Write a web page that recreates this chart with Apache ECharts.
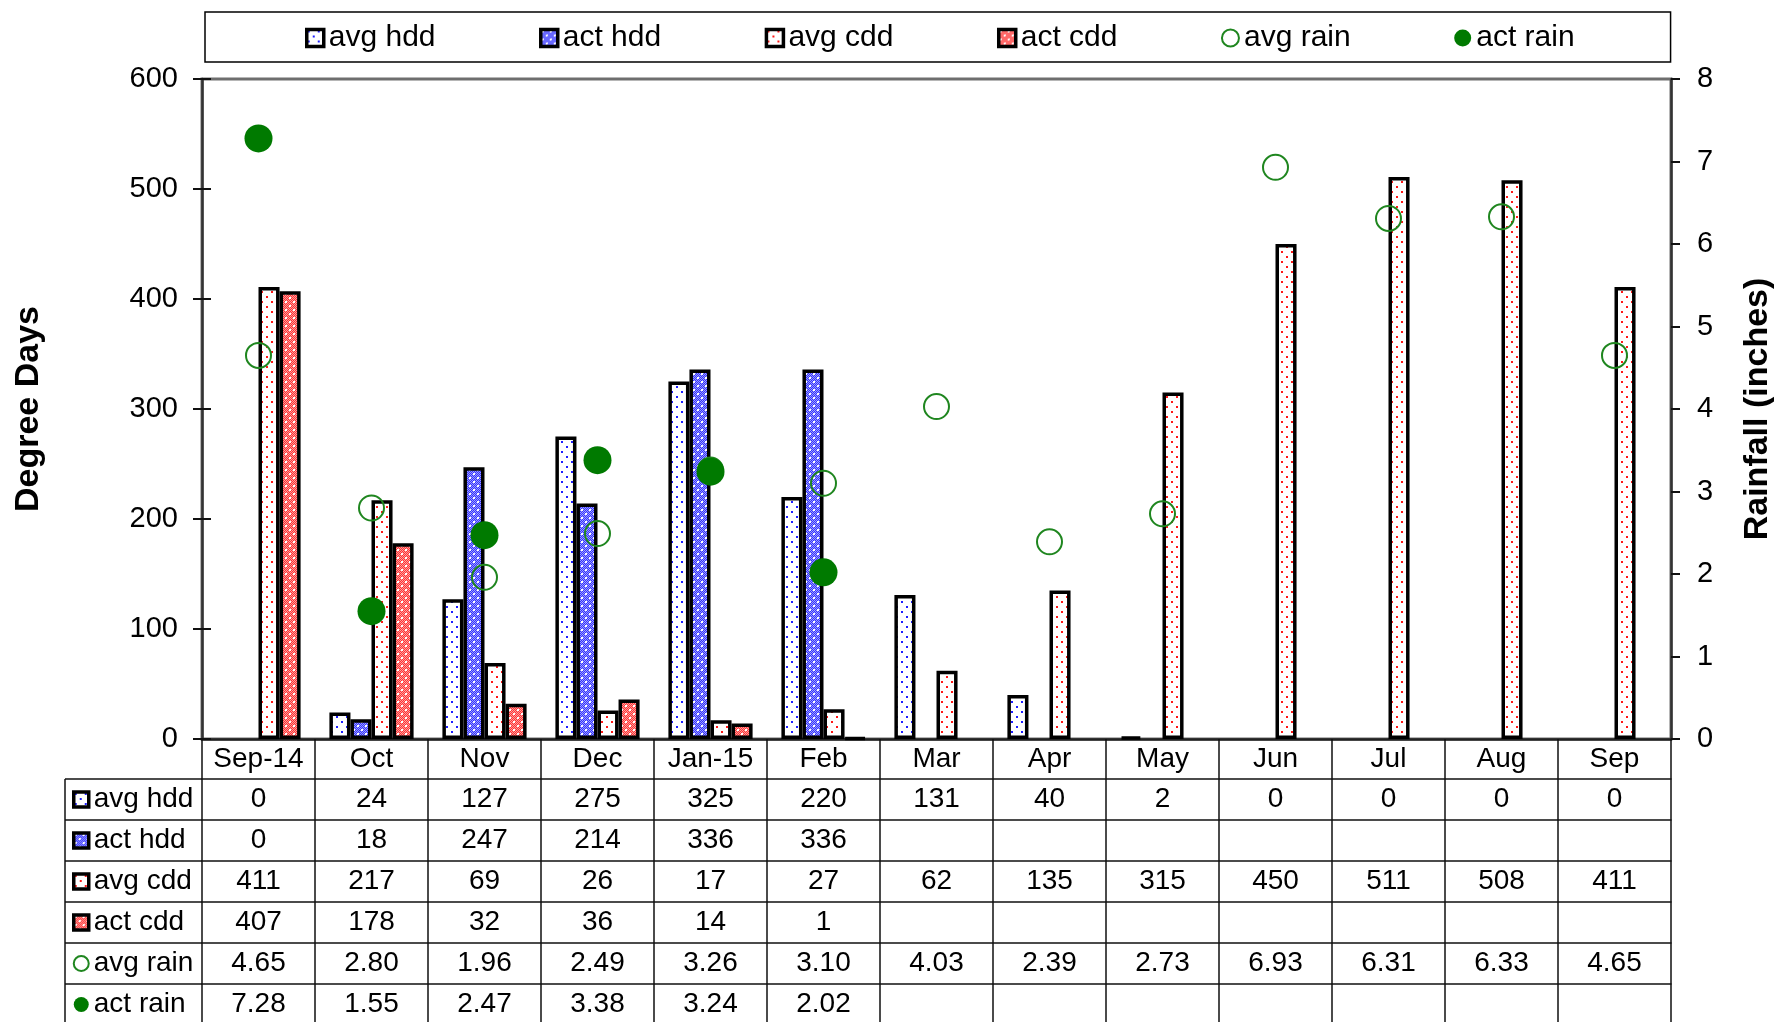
<!DOCTYPE html>
<html><head><meta charset="utf-8">
<script src="https://cdn.jsdelivr.net/npm/echarts@6/dist/echarts.min.js"></script>
<style>html,body{margin:0;padding:0;background:#fff;overflow:hidden}#c{width:1779px;height:1022px}</style>
</head><body><div id="c"></div>
<script>
// ---- data ----
const categories = ['Sep-14','Oct','Nov','Dec','Jan-15','Feb','Mar','Apr','May','Jun','Jul','Aug','Sep'];
const avgHdd  = [0,24,127,275,325,220,131,40,2,0,0,0,0];
const actHdd  = [0,18,247,214,336,336,null,null,null,null,null,null,null];
const avgCdd  = [411,217,69,26,17,27,62,135,315,450,511,508,411];
const actCdd  = [407,178,32,36,14,1,null,null,null,null,null,null,null];
const avgRain = [4.65,2.80,1.96,2.49,3.26,3.10,4.03,2.39,2.73,6.93,6.31,6.33,4.65];
const actRain = [7.28,1.55,2.47,3.38,3.24,2.02,null,null,null,null,null,null,null];
const seriesNames = ['avg hdd','act hdd','avg cdd','act cdd','avg rain','act rain'];
const leftAxis  = {min:0, max:600, interval:100};
const rightAxis = {min:0, max:8, interval:1};

// ---- layout / style ----
const W = 1779, H = 1022;
const gridLeft = 202, gridRight = W - 1671, gridTop = 79, gridBottom = H - 739;
const axisY = H - gridBottom;
const catRowH = 40, rowH = 41, labelLeft = 65;
const FONT = '"Liberation Sans", Arial, sans-serif';
const GREEN = '#007a00';

function makePattern(bg, dotColor, dense, sparse) {
  const c = document.createElement('canvas');
  const s = sparse ? 10 : 8;
  c.width = s; c.height = s;
  const g = c.getContext('2d');
  g.fillStyle = bg; g.fillRect(0,0,s,s);
  if (dense) {
    g.fillStyle = dense;
    for (let y=0;y<s;y++) for (let x=0;x<s;x++) if ((x+y)%2===0) g.fillRect(x,y,1,1);
  }
  g.fillStyle = dotColor;
  const h = s/2;
  g.fillRect(1,1,2,2); g.fillRect(1+h,1+h,2,2);
  return {image: c, repeat: 'repeat'};
}
const patAvgHdd = makePattern('#ffffff', '#1f1fff', null, true);
const patActHdd = makePattern('#3434ff', '#ffffff', '#9c9cff', false);
const patAvgCdd = makePattern('#ffffff', '#ff1818', null, true);
const patActCdd = makePattern('#ff3434', '#ffffff', '#ff9c9c', false);

function barSeries(name, data, pat) {
  return {name, type:'bar',
    data: data.map(v => v === 0 ? {value:v, itemStyle:{borderWidth:0}} : v),
    xAxisIndex:0, yAxisIndex:0,
    barGap:'0%', barCategoryGap:'25.5%',
    itemStyle:{color: pat, borderColor:'#000', borderWidth:3.5}, z:2};
}

const rows = [
  avgHdd.map(v => v==null?'':String(v)),
  actHdd.map(v => v==null?'':String(v)),
  avgCdd.map(v => v==null?'':String(v)),
  actCdd.map(v => v==null?'':String(v)),
  avgRain.map(v => v==null?'':v.toFixed(2)),
  actRain.map(v => v==null?'':v.toFixed(2))
];

const tableAxes = rows.map((vals, k) => ({
  type:'category', data: categories, gridIndex:0, position:'bottom',
  offset: catRowH + rowH*k,
  axisLine:{show:true, onZero:false, lineStyle:{color:'#111', width:1.5}},
  axisTick:{show:true, length:rowH, inside:false, lineStyle:{color:'#111', width:1.5}},
  axisLabel:{show:true, interval:0, margin:0, lineHeight:rowH, fontSize:28, color:'#000', fontFamily:FONT,
    formatter:(v, i) => vals[i]},
  splitLine:{show:false}
}));

const barIconStyle = {borderWidth:3.5, borderColor:'#000'};
const legendData = seriesNames.map((n, i) => i < 4
  ? {name:n, icon:'rect', itemStyle: barIconStyle}
  : {name:n, icon:'circle'});

const chart = echarts.init(document.getElementById('c'), null, {renderer:'canvas'});

const graphicLines = [];
for (let k=0; k<=6; k++) {
  const y = axisY + catRowH + rowH*k;
  graphicLines.push({type:'line', shape:{x1:labelLeft, y1:y, x2:gridLeft, y2:y}, style:{stroke:'#111', lineWidth:1.5}, silent:true});
}
graphicLines.push({type:'line', shape:{x1:labelLeft, y1:axisY+catRowH, x2:labelLeft, y2:axisY+catRowH+rowH*6}, style:{stroke:'#111', lineWidth:1.5}, silent:true});

chart.setOption({
  animation:false,
  backgroundColor:'#fff',
  textStyle:{fontFamily:FONT},
  grid:{left:gridLeft, right:gridRight, top:gridTop, bottom:gridBottom, containLabel:false, outerBoundsMode:'none',
    show:true, borderColor:'#6e6e6e', borderWidth:3, backgroundColor:'transparent'},
  legend:[{
    data: legendData, orient:'horizontal', left:205, top:12,
    padding:[11,96,9,100], itemGap:103.5, itemWidth:17, itemHeight:17,
    borderColor:'#000', borderWidth:1.5, selectedMode:false,
    textStyle:{fontSize:30, lineHeight:30, color:'#000', fontFamily:FONT}
  },{
    data: legendData, orient:'vertical', left:labelLeft, top:axisY+catRowH, height:300,
    padding:[0,0,0,7], itemGap:0, itemWidth:15, itemHeight:15, selectedMode:false,
    textStyle:{fontSize:28, lineHeight:rowH, color:'#000', fontFamily:FONT}
  }],
  xAxis:[{
    type:'category', data:categories, gridIndex:0, position:'bottom',
    axisLine:{show:true, onZero:false, lineStyle:{color:'#222', width:2.5}},
    axisTick:{show:true, length:catRowH, inside:false, lineStyle:{color:'#111', width:1.5}},
    axisLabel:{interval:0, margin:0, lineHeight:catRowH, fontSize:28, color:'#000', fontFamily:FONT},
    splitLine:{show:false}
  }].concat(tableAxes),
  yAxis:[{
    type:'value', min:leftAxis.min, max:leftAxis.max, interval:leftAxis.interval, position:'left',
    name:'Degree Days', nameLocation:'middle', nameGap:156, nameRotate:90,
    nameTextStyle:{fontSize:34, fontWeight:'bold', color:'#000', fontFamily:FONT},
    axisLine:{show:true, lineStyle:{color:'#333', width:2.5}},
    axisTick:{show:true, length:9, inside:false, lineStyle:{color:'#111', width:2}},
    axisLabel:{fontSize:29, margin:24, color:'#000', fontFamily:FONT},
    splitLine:{show:false}
  },{
    type:'value', min:rightAxis.min, max:rightAxis.max, interval:rightAxis.interval, position:'right',
    name:'Rainfall (inches)', nameLocation:'middle', nameGap:70, nameRotate:90,
    nameTextStyle:{fontSize:34, fontWeight:'bold', color:'#000', fontFamily:FONT},
    axisLine:{show:true, lineStyle:{color:'#333', width:2.5}},
    axisTick:{show:true, length:9, inside:false, lineStyle:{color:'#111', width:2}},
    axisLabel:{fontSize:29, margin:26, color:'#000', fontFamily:FONT},
    splitLine:{show:false}
  },{
    type:'value', min:leftAxis.min, max:leftAxis.max, interval:leftAxis.interval, position:'left',
    axisLine:{show:false}, axisLabel:{show:false}, splitLine:{show:false},
    axisTick:{show:true, length:9, inside:true, lineStyle:{color:'#111', width:2}}
  }],
  series:[
    barSeries('avg hdd', avgHdd, patAvgHdd),
    barSeries('act hdd', actHdd, patActHdd),
    barSeries('avg cdd', avgCdd, patAvgCdd),
    barSeries('act cdd', actCdd, patActCdd),
    {name:'avg rain', type:'scatter', data:avgRain, xAxisIndex:0, yAxisIndex:1, symbol:'circle', symbolSize:25, z:5,
      itemStyle:{color:'rgba(0,0,0,0)', borderColor:'#1f861f', borderWidth:2, opacity:1}},
    {name:'act rain', type:'scatter', data:actRain, xAxisIndex:0, yAxisIndex:1, symbol:'circle', symbolSize:28, z:6,
      itemStyle:{color:GREEN, opacity:1}}
  ],
  graphic: graphicLines
});
</script>
</body></html>
